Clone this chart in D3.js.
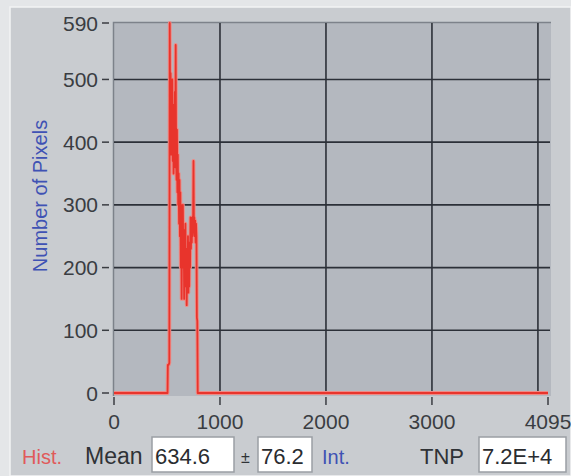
<!DOCTYPE html>
<html>
<head>
<meta charset="utf-8">
<script src="https://cdn.jsdelivr.net/npm/d3@7"></script>
<style>
  body { margin: 0; background: #ffffff; }
  svg { display: block; }
</style>
</head>
<body>
<div id="chart"></div>
<script>
// histogram (intensity value, pixel count)
var intensity = [0, 500, 505, 508, 516, 522, 526, 530, 534, 538, 542, 546, 550, 554, 558, 562, 566, 570, 574, 578, 582, 586, 590, 594, 598, 602, 606, 610, 614, 618, 622, 626, 630, 634, 638, 642, 646, 650, 654, 658, 662, 666, 670, 674, 678, 682, 686, 690, 694, 698, 702, 706, 710, 714, 718, 722, 726, 730, 734, 738, 742, 746, 750, 754, 758, 762, 766, 770, 774, 778, 782, 786, 790, 800, 4095];
var counts    = [0,   0,   0,  45,  45,  48, 590, 420, 510, 380, 480, 400, 500, 370, 460, 350, 430, 390, 480, 360, 555, 380, 340, 420, 320, 380, 300, 350, 270, 340, 250, 320, 200, 300, 150, 280, 230, 300, 200, 260, 150, 240, 190, 270, 170, 230, 140, 210, 180, 250, 160, 230, 170, 240, 200, 280, 230, 270, 240, 280, 250, 260, 370, 260, 280, 250, 275, 240, 270, 250, 120, 115,   0,   0,   0];

var yTicks = [0, 100, 200, 300, 400, 500, 590];
var xTicks = [0, 1000, 2000, 3000, 4095];
var xGrid = [1000, 2000, 3000, 4000];

var meanText = "634.6";
var sdText = "76.2";
var tnpText = "7.2E+4";

var width = 571, height = 476;

var svg = d3.select("#chart")
        .append("svg")
        .attr("width", width)
        .attr("height", height);

// panel
svg.append("rect")
        .attr("x", 0).attr("y", 0)
        .attr("width", width).attr("height", height)
        .attr("fill", "#e4e6e8");
svg.append("rect")
        .attr("x", 10).attr("y", 7)
        .attr("width", width - 10).attr("height", height - 7)
        .attr("fill", "#c9ccd0")
        .attr("stroke", "#f2f3f4")
        .attr("stroke-width", 1.5);

var x = d3.scaleLinear().domain([0, 4095]).range([114, 548]);
var y = d3.scaleLinear().domain([0, 590]).range([393, 23]);

// plot area
svg.append("rect")
        .attr("x", 113).attr("y", 22)
        .attr("width", 438).attr("height", 374)
        .attr("fill", "#b4b8bf");
svg.append("path")
        .attr("d", "M113.5,396V22.5H551")
        .attr("fill", "none")
        .attr("stroke", "#7d828a")
        .attr("stroke-width", 1.5);

// grid
svg.selectAll(".hgrid")
        .data(yTicks.filter(function (d) { return d > 0 && d < 590; }))
        .enter()
        .append("line")
        .attr("class", "hgrid")
        .attr("x1", 114).attr("x2", 550)
        .attr("y1", function (d) { return y(d); })
        .attr("y2", function (d) { return y(d); })
        .attr("stroke", "#2c3038")
        .attr("stroke-width", 1.6);

svg.selectAll(".vgrid")
        .data(xGrid)
        .enter()
        .append("line")
        .attr("class", "vgrid")
        .attr("y1", 23).attr("y2", 395)
        .attr("x1", function (d) { return x(d); })
        .attr("x2", function (d) { return x(d); })
        .attr("stroke", "#2c3038")
        .attr("stroke-width", 1.6);

// histogram line
var line = d3.line()
        .x(function (d) { return x(d[0]); })
        .y(function (d) { return y(d[1]); });
var pts = d3.zip(intensity, counts);

svg.append("path")
        .datum(pts)
        .attr("d", line)
        .attr("fill", "none")
        .attr("stroke", "#ee8a85")
        .attr("stroke-width", 3.8)
        .attr("stroke-linejoin", "round");
svg.append("path")
        .datum(pts)
        .attr("d", line)
        .attr("fill", "none")
        .attr("stroke", "#e8342c")
        .attr("stroke-width", 1.8)
        .attr("stroke-linejoin", "round");

// y axis ticks + labels
var font = "'Liberation Sans', Arial, sans-serif";
var yt = svg.selectAll(".ytick")
        .data(yTicks)
        .enter()
        .append("g")
        .attr("class", "ytick")
        .attr("transform", function (d) { return "translate(0," + y(d) + ")"; });
yt.append("line")
        .attr("x1", 102).attr("x2", 109)
        .attr("stroke", "#3a3d42")
        .attr("stroke-width", 1.5);
yt.append("text")
        .attr("x", 98)
        .attr("dy", "0.36em")
        .attr("text-anchor", "end")
        .attr("font-family", font)
        .attr("font-size", 21)
        .attr("fill", "#3a3d42")
        .text(function (d) { return d; });

// x axis ticks + labels
var xt = svg.selectAll(".xtick")
        .data(xTicks)
        .enter()
        .append("g")
        .attr("class", "xtick")
        .attr("transform", function (d) { return "translate(" + x(d) + ",0)"; });
xt.append("line")
        .attr("y1", 397).attr("y2", 405)
        .attr("stroke", "#3a3d42")
        .attr("stroke-width", 1.5);
xt.append("text")
        .attr("y", 429)
        .attr("text-anchor", "middle")
        .attr("font-family", font)
        .attr("font-size", 21)
        .attr("fill", "#3a3d42")
        .text(function (d) { return d; });

// y title
svg.append("text")
        .attr("transform", "translate(47,196) rotate(-90)")
        .attr("text-anchor", "middle")
        .attr("font-family", font)
        .attr("font-size", 20)
        .attr("fill", "#3f52b4")
        .text("Number of Pixels");

// bottom row
function label(xp, txt, col, size) {
    svg.append("text")
            .attr("x", xp).attr("y", 464)
            .attr("font-family", font)
            .attr("font-size", size)
            .attr("fill", col)
            .text(txt);
}
function box(x0, x1, txt) {
    svg.append("rect")
            .attr("x", x0).attr("y", 437)
            .attr("width", x1 - x0).attr("height", 35)
            .attr("fill", "#ffffff")
            .attr("stroke", "#9a9ea4")
            .attr("stroke-width", 1.5);
    svg.append("text")
            .attr("x", x0 + 3).attr("y", 464)
            .attr("font-family", font)
            .attr("font-size", 22)
            .attr("fill", "#2a2c30")
            .text(txt);
}
label(22, "Hist.", "#e05a5a", 20);
label(85, "Mean", "#2f3236", 23);
box(152, 234, meanText);
svg.append("text")
        .attr("x", 241).attr("y", 463)
        .attr("font-family", font)
        .attr("font-size", 16)
        .attr("fill", "#2f3236")
        .text("\u00b1");
box(258, 312, sdText);
label(322, "Int.", "#3f52b4", 20);
label(420, "TNP", "#2f3236", 22);
box(479, 566, tnpText);
</script>
</body>
</html>
